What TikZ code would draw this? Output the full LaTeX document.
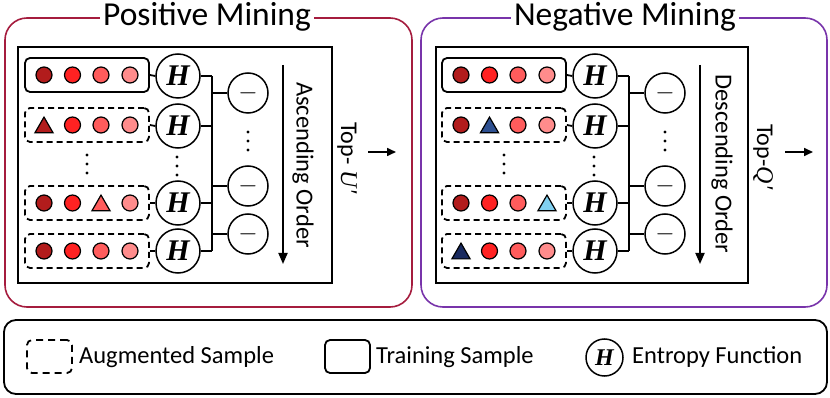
\documentclass[tikz,border=0pt]{standalone}
\usepackage{fontspec}
\setmainfont{Carlito}
\newfontfamily\hfont{Liberation Serif}
\usetikzlibrary{shapes.geometric,arrows.meta}
\definecolor{posred}{RGB}{165,28,62}
\definecolor{negpur}{RGB}{120,52,170}
\definecolor{ca}{RGB}{178,28,28}
\definecolor{cb}{RGB}{255,34,34}
\definecolor{cc}{RGB}{255,92,92}
\definecolor{cd}{RGB}{255,140,140}
\definecolor{tblue}{RGB}{46,80,145}
\definecolor{tlight}{RGB}{128,208,240}
\definecolor{tnavy}{RGB}{25,42,95}
\begin{document}
\begin{tikzpicture}[x=1pt,y=-1pt,
  panelbox/.style={line width=1.6pt, rounded corners=22pt},
  paneltitle/.style={fill=white, inner xsep=3pt, inner ysep=0pt, anchor=base, font=\fontsize{33.5}{40}\selectfont},
  innerbox/.style={line width=2pt},
  trainbox/.style={draw, line width=1.8pt, rounded corners=5pt, minimum width=124pt, minimum height=34pt, inner sep=0pt},
  augbox/.style={trainbox, dash pattern=on 6pt off 4pt},
  dot/.style={circle, draw, line width=1.2pt, minimum size=16pt, inner sep=0pt},
  tri/.style={regular polygon, regular polygon sides=3, draw, line width=1.2pt, minimum size=21pt, inner sep=0pt, yshift=-2.6pt},
  hnode/.style={circle, draw, line width=1.5pt, minimum size=44pt, inner sep=0pt, font=\hfont\bfseries\itshape\fontsize{30}{30}\selectfont},
  mnode/.style={circle, draw, line width=1.5pt, minimum size=40pt, inner sep=0pt, font=\fontsize{23}{23}\selectfont},
  conn/.style={line width=1.8pt},
  ordarrow/.style={line width=1.8pt, -{Triangle[length=11pt,width=9pt]}},
  toparrow/.style={line width=1.6pt, -{Triangle[length=9pt,width=8pt]}},
  ordtext/.style={rotate=-90, inner sep=0pt, font=\fontsize{24.5}{28}\selectfont},
  toptext/.style={rotate=-90, inner sep=0pt, anchor=west, font=\fontsize{24}{28}\selectfont},
  legtext/.style={anchor=west, inner sep=0pt, font=\fontsize{24.5}{28}\selectfont},
  vdots/.style={fill=black}
]
\useasboundingbox (0,0) rectangle (830,398);

% ================= Positive panel =================
\draw[posred, panelbox] (5,18) rectangle (412,307);
\node[paneltitle] (ptitle) at (207,26) {Positive Mining};
\draw[innerbox] (18,47) rectangle (332,283);

\node[trainbox] (pr1) at (87,75) {};
\node[augbox] (pr2) at (87,125) {};
\node[augbox] (pr3) at (87,203) {};
\node[augbox] (pr4) at (87,251) {};

\node[dot, fill=ca] (p1a) at (44,75) {};
\node[dot, fill=cb] (p1b) at (72.5,75) {};
\node[dot, fill=cc] (p1c) at (101,75) {};
\node[dot, fill=cd] (p1d) at (130,75) {};

\node[tri, fill=ca] (p2a) at (44,125) {};
\node[dot, fill=cb] (p2b) at (72.5,125) {};
\node[dot, fill=cc] (p2c) at (101,125) {};
\node[dot, fill=cd] (p2d) at (130,125) {};

\node[dot, fill=ca] (p3a) at (44,203) {};
\node[dot, fill=cb] (p3b) at (72.5,203) {};
\node[tri, fill=cc] (p3c) at (101,203) {};
\node[dot, fill=cd] (p3d) at (130,203) {};

\node[dot, fill=ca] (p4a) at (44,251) {};
\node[dot, fill=cb] (p4b) at (72.5,251) {};
\node[dot, fill=cc] (p4c) at (101,251) {};
\node[dot, fill=cd] (p4d) at (130,251) {};

\node[hnode] (pH1) at (178,76) {H};
\node[hnode] (pH2) at (178,126) {H};
\node[hnode] (pH3) at (178,203) {H};
\node[hnode] (pH4) at (178,251) {H};

\foreach \i in {1,...,4} {\draw[conn] (pr\i.east) -- (pH\i.west);}

\coordinate (pbus) at (212,0);
\foreach \i in {1,...,4} {\draw[conn] (pH\i.east) -- (pH\i.east -| pbus);}
\draw[conn] (pH1.east -| pbus) -- (pH4.east -| pbus);

\node[mnode] (pM1) at (248,93) {$-$};
\node[mnode] (pM2) at (248,186) {$-$};
\node[mnode] (pM3) at (248,234) {$-$};
\foreach \i in {1,2,3} {\draw[conn] (pM\i.west -| pbus) -- (pM\i.west);}

\foreach \y in {155,164,173} {\fill[vdots] (87,\y) circle[radius=1.7pt];}
\foreach \y in {157,166,175} {\fill[vdots] (177,\y) circle[radius=1.7pt];}
\foreach \y in {132,141,150} {\fill[vdots] (248,\y) circle[radius=1.7pt];}

\coordinate (pA1) at (283,65);
\coordinate (pA2) at (283,264);
\draw[ordarrow] (pA1) -- (pA2);
\node[ordtext] (pord) at (303,165) {Ascending Order};
\node[toptext] (ptop) at (347,122) {Top-\hspace{6pt}{\hfont\itshape U\kern1pt ′}};
\coordinate (pT1) at (368,152);
\coordinate (pT2) at (396,152);
\draw[toparrow] (pT1) -- (pT2);

% ================= Negative panel =================
\draw[negpur, panelbox] (421,18) rectangle (827,307);
\node[paneltitle] (ntitle) at (625,26) {Negative Mining};
\begin{scope}[shift={(417,0)}]
\draw[innerbox] (19,47) rectangle (331,283);

\node[trainbox] (nr1) at (87,75) {};
\node[augbox] (nr2) at (87,125) {};
\node[augbox] (nr3) at (87,203) {};
\node[augbox] (nr4) at (87,251) {};

\node[dot, fill=ca] (n1a) at (44,75) {};
\node[dot, fill=cb] (n1b) at (72.5,75) {};
\node[dot, fill=cc] (n1c) at (101,75) {};
\node[dot, fill=cd] (n1d) at (130,75) {};

\node[dot, fill=ca] (n2a) at (44,125) {};
\node[tri, fill=tblue] (n2b) at (72.5,125) {};
\node[dot, fill=cc] (n2c) at (101,125) {};
\node[dot, fill=cd] (n2d) at (130,125) {};

\node[dot, fill=ca] (n3a) at (44,203) {};
\node[dot, fill=cb] (n3b) at (72.5,203) {};
\node[dot, fill=cc] (n3c) at (101,203) {};
\node[tri, fill=tlight] (n3d) at (130,203) {};

\node[tri, fill=tnavy] (n4a) at (44,251) {};
\node[dot, fill=cb] (n4b) at (72.5,251) {};
\node[dot, fill=cc] (n4c) at (101,251) {};
\node[dot, fill=cd] (n4d) at (130,251) {};

\node[hnode] (nH1) at (178,76) {H};
\node[hnode] (nH2) at (178,126) {H};
\node[hnode] (nH3) at (178,203) {H};
\node[hnode] (nH4) at (178,251) {H};

\foreach \i in {1,...,4} {\draw[conn] (nr\i.east) -- (nH\i.west);}

\coordinate (nbus) at (212,0);
\foreach \i in {1,...,4} {\draw[conn] (nH\i.east) -- (nH\i.east -| nbus);}
\draw[conn] (nH1.east -| nbus) -- (nH4.east -| nbus);

\node[mnode] (nM1) at (248,93) {$-$};
\node[mnode] (nM2) at (248,186) {$-$};
\node[mnode] (nM3) at (248,234) {$-$};
\foreach \i in {1,2,3} {\draw[conn] (nM\i.west -| nbus) -- (nM\i.west);}

\foreach \y in {155,164,173} {\fill[vdots] (87,\y) circle[radius=1.7pt];}
\foreach \y in {157,166,175} {\fill[vdots] (177,\y) circle[radius=1.7pt];}
\foreach \y in {132,141,150} {\fill[vdots] (248,\y) circle[radius=1.7pt];}

\coordinate (nA1) at (283,65);
\coordinate (nA2) at (283,264);
\draw[ordarrow] (nA1) -- (nA2);
\node[ordtext] (nord) at (305,164) {Descending Order};
\node[toptext] (ntop) at (346,124) {Top-{\hfont\itshape Q\kern1pt ′}};
\coordinate (nT1) at (368,152);
\coordinate (nT2) at (396,152);
\draw[toparrow] (nT1) -- (nT2);
\end{scope}

% ================= Legend =================
\draw[line width=1.8pt, rounded corners=12pt] (4,320) rectangle (827,394);
\node[trainbox, dash pattern=on 7pt off 5pt, minimum width=45pt, minimum height=33pt] (lg1) at (49.5,356.5) {};
\node[legtext] (lt1) at (79,357) {Augmented Sample};
\node[trainbox, minimum width=45pt, minimum height=33pt] (lg2) at (347.5,356.5) {};
\node[legtext] (lt2) at (376,357) {Training Sample};
\node[hnode, minimum size=37pt, font=\hfont\bfseries\itshape\fontsize{24}{24}\selectfont] (lg3) at (604.5,357.5) {H};
\node[legtext] (lt3) at (632,357) {Entropy Function};
\end{tikzpicture}
\end{document}
